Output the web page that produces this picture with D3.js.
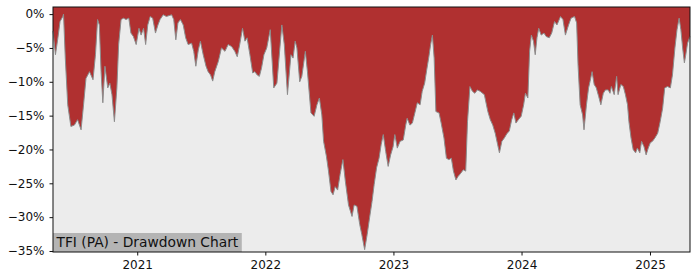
<!DOCTYPE html>
<html>
<head>
<meta charset="utf-8">
<script src="https://cdn.jsdelivr.net/npm/d3@7"></script>
<style>
  body { margin: 0; background: #fff; }
  svg { display: block; font-family: "DejaVu Sans", sans-serif; }
</style>
</head>
<body>
<svg width="700" height="280"></svg>
<script>
var chartLabel = "TFI (PA) - Drawdown Chart"

// drawdown (%), one point per visible turn of the curve
var dates = [
  "2020-05-06","2020-05-13","2020-05-20","2020-05-26","2020-06-03","2020-06-05","2020-06-10","2020-06-17",
  "2020-06-26","2020-07-06","2020-07-15","2020-07-25","2020-08-01","2020-08-08","2020-08-18","2020-08-28",
  "2020-09-04","2020-09-10","2020-09-15","2020-09-20","2020-09-25","2020-10-01","2020-10-09","2020-10-15",
  "2020-10-21","2020-10-28","2020-11-04","2020-11-09","2020-11-16","2020-11-23","2020-11-30","2020-12-08",
  "2020-12-14","2020-12-21","2020-12-29",
  "2021-01-06","2021-01-12","2021-01-19","2021-01-25","2021-01-31","2021-02-07","2021-02-14","2021-02-22",
  "2021-03-01","2021-03-07","2021-03-16","2021-03-25","2021-04-09","2021-04-15","2021-04-21","2021-04-27",
  "2021-05-04","2021-05-12","2021-05-19","2021-05-26","2021-06-05","2021-06-11","2021-06-17","2021-06-24",
  "2021-06-30","2021-07-08","2021-07-16","2021-07-22","2021-07-29","2021-08-04","2021-08-10","2021-08-20",
  "2021-08-29","2021-09-08","2021-09-17","2021-09-27","2021-10-06","2021-10-13","2021-10-20","2021-10-28",
  "2021-11-04","2021-11-10","2021-11-18","2021-11-26","2021-12-02","2021-12-09","2021-12-15","2021-12-21",
  "2021-12-28",
  "2022-01-05","2022-01-15","2022-01-25","2022-02-03","2022-02-17","2022-02-24","2022-03-05","2022-03-15",
  "2022-03-21","2022-03-27","2022-04-01","2022-04-09","2022-04-15","2022-04-25","2022-05-01","2022-05-11",
  "2022-05-20","2022-05-28","2022-06-04","2022-06-11","2022-06-16","2022-06-24","2022-06-30","2022-07-07",
  "2022-07-13","2022-07-19","2022-07-26","2022-08-02","2022-08-10","2022-08-17","2022-08-26","2022-09-05",
  "2022-09-11","2022-09-19","2022-09-27","2022-10-03","2022-10-11","2022-10-18","2022-10-25","2022-11-01",
  "2022-11-07","2022-11-14","2022-11-21","2022-11-27","2022-12-03","2022-12-10","2022-12-17","2022-12-24",
  "2022-12-31",
  "2023-01-05","2023-01-12","2023-01-20","2023-01-29","2023-02-05","2023-02-09","2023-02-17","2023-02-24",
  "2023-03-03","2023-03-10","2023-03-18","2023-03-24","2023-03-31","2023-04-06","2023-04-12","2023-04-17",
  "2023-04-22","2023-04-27","2023-05-02","2023-05-11","2023-05-17","2023-05-25","2023-06-01","2023-06-08",
  "2023-06-15","2023-06-21","2023-06-28","2023-07-04","2023-07-12","2023-07-19","2023-07-26","2023-07-31",
  "2023-08-07","2023-08-14","2023-08-21","2023-08-28","2023-09-05","2023-09-17","2023-09-27","2023-10-04",
  "2023-10-11","2023-10-18","2023-10-25","2023-10-30","2023-11-06","2023-11-13","2023-11-21","2023-11-27",
  "2023-12-04","2023-12-10","2023-12-16","2023-12-23","2023-12-31",
  "2024-01-07","2024-01-12","2024-01-19","2024-01-24","2024-01-29","2024-02-04","2024-02-09","2024-02-14",
  "2024-02-19","2024-02-26","2024-03-05","2024-03-11","2024-03-20","2024-03-27","2024-04-04","2024-04-11",
  "2024-04-21","2024-04-28","2024-05-05","2024-05-14","2024-05-21","2024-05-31","2024-06-06","2024-06-10",
  "2024-06-16","2024-06-23","2024-06-27","2024-07-04","2024-07-10","2024-07-14","2024-07-20","2024-07-26",
  "2024-08-01","2024-08-08","2024-08-14","2024-08-21","2024-08-27","2024-09-04","2024-09-09","2024-09-13",
  "2024-09-21","2024-09-28","2024-10-02","2024-10-10","2024-10-17","2024-10-23","2024-10-29","2024-11-02",
  "2024-11-08","2024-11-14","2024-11-21","2024-11-26","2024-12-03","2024-12-08","2024-12-15","2024-12-21",
  "2024-12-27",
  "2025-01-02","2025-01-08","2025-01-15","2025-01-23","2025-01-30","2025-02-06","2025-02-12","2025-02-20",
  "2025-02-28","2025-03-06","2025-03-13","2025-03-19","2025-03-25","2025-03-30","2025-04-04","2025-04-09",
  "2025-04-13","2025-04-18","2025-04-25"
]

var drawdown = [
  -2.5,-6.0,-3.5,-1.1,-0.35,0,-6.5,-13.4,
  -16.6,-16.4,-15.6,-17.1,-13.4,-9.5,-8.5,-9.7,
  -6.0,-0.8,-1.6,-8.5,-13.1,-7.7,-10.9,-10.2,
  -11.9,-15.9,-10.9,-4.5,-0.8,-0.6,-0.8,-0.6,
  -2.8,-3.3,-4.5,
  -2.1,-3.1,-2.1,-4.5,-1.6,-0.35,-0.6,-2.8,
  -1.6,-0.8,-0.1,-0.35,-0.1,-0.8,-3.8,-1.3,
  -0.8,-1.6,-3.5,-4.5,-4.3,-5.5,-7.7,-5.3,
  -4.0,-6.0,-7.7,-8.5,-9.0,-9.9,-8.5,-7.0,
  -5.0,-5.5,-4.5,-4.8,-5.5,-6.3,-4.5,-2.1,
  -4.0,-3.5,-6.0,-8.7,-8.5,-9.0,-9.2,-8.0,
  -6.0,
  -5.0,-2.3,-10.9,-10.2,-1.6,-4.5,-11.9,-6.0,
  -6.5,-4.0,-5.0,-10.0,-9.2,-5.5,-8.5,-14.6,
  -15.1,-13.4,-12.4,-14.9,-18.8,-21.0,-23.2,-26.2,
  -26.7,-25.5,-26.0,-23.7,-21.5,-24.7,-28.2,-29.9,
  -28.2,-28.4,-31.1,-32.6,-34.8,-32.6,-30.1,-27.7,
  -25.2,-22.7,-21.3,-19.3,-17.8,-20.3,-22.5,-20.8,
  -19.6,
  -17.8,-19.8,-18.8,-18.6,-16.4,-15.4,-16.4,-16.1,
  -14.6,-13.1,-13.4,-11.4,-10.2,-8.2,-6.3,-4.5,
  -3.1,-6.5,-14.4,-14.6,-16.1,-18.3,-21.3,-21.5,
  -21.3,-23.2,-24.5,-24.0,-23.5,-23.0,-23.2,-15.9,
  -10.7,-11.4,-11.7,-11.2,-11.4,-11.9,-14.4,-15.6,
  -16.4,-17.6,-19.3,-20.5,-18.8,-18.3,-17.6,-17.3,
  -15.6,-14.6,-16.1,-15.6,-15.1,
  -13.4,-11.7,-12.4,-5.5,-3.1,-4.0,-6.0,-3.5,
  -2.1,-3.1,-2.8,-3.3,-3.5,-2.8,-1.1,-1.6,
  -0.35,-0.8,-3.1,-1.6,-0.6,-0.35,-1.3,-7.5,
  -13.4,-14.9,-17.1,-13.4,-10.9,-10.0,-8.5,-10.4,
  -10.9,-12.2,-13.4,-11.7,-11.2,-11.2,-11.7,-10.7,
  -11.9,-9.2,-11.9,-10.4,-10.7,-11.9,-13.4,-15.9,
  -18.3,-20.0,-20.5,-19.8,-20.5,-18.8,-19.6,-20.8,
  -19.8,
  -19.0,-18.8,-18.3,-17.6,-15.9,-13.9,-10.9,-10.7,
  -10.9,-9.0,-5.0,-2.3,-0.6,-2.3,-5.0,-7.2,
  -6.0,-4.3,-3.3
]

var yTicks = [0, -5, -10, -15, -20, -25, -30, -35]
var xTicks = ["2021-01-01", "2022-01-01", "2023-01-01", "2024-01-01", "2025-01-01"]

var parse = d3.timeParse("%Y-%m-%d")
var data = dates.map(function(d, i) { return {date: parse(d), v: drawdown[i]} })

var svg = d3.select("svg")
var margin = ({top: 7, right: 10, bottom: 28, left: 53})
var width = 700 - margin.left - margin.right
var height = 280 - margin.top - margin.bottom

var g = svg.append("g").attr("transform", "translate(" + margin.left + "," + margin.top + ")")

var x = d3.scaleTime()
          .domain(d3.extent(data, function(d) { return d.date }))
          .range([0, width])

var y = d3.scaleLinear()
          .domain([-35.15, 1.05])
          .range([height, 0])

g.append("rect")
 .attr("width", width)
 .attr("height", height)
 .attr("fill", "#ececec")

// red area hangs from the top of the plot down to the drawdown curve
var area = d3.area()
             .x(function(d) { return x(d.date) })
             .y0(0)
             .y1(function(d) { return y(d.v) })

g.append("path")
 .datum(data)
 .attr("fill", "#b03030")
 .attr("d", area)

g.append("path")
 .datum(data)
 .attr("fill", "none")
 .attr("stroke", "#8c8c8c")
 .attr("stroke-width", 1)
 .attr("d", d3.line().x(function(d) { return x(d.date) }).y(function(d) { return y(d.v) }))

// label box in the lower left corner
var label = g.append("g")
var labelText = label.append("text")
                     .attr("x", 3.5)
                     .attr("y", height - 5)
                     .attr("font-size", 13.8)
                     .attr("fill", "#111")
                     .text(chartLabel)
var tw = labelText.node().getComputedTextLength()
label.insert("rect", "text")
     .attr("x", 0)
     .attr("y", height - 19)
     .attr("width", tw + 7)
     .attr("height", 19)
     .attr("fill", "#b4b4b4")

var yAxis = g.append("g")
             .call(d3.axisLeft(y)
                     .tickValues(yTicks)
                     .tickSize(3.5)
                     .tickPadding(5)
                     .tickFormat(function(d) { return (d < 0 ? "\u2212" : "") + Math.abs(d) + "%" }))
yAxis.select(".domain").remove()

var xAxis = g.append("g")
             .attr("transform", "translate(0," + height + ")")
             .call(d3.axisBottom(x)
                     .tickValues(xTicks.map(parse))
                     .tickSize(3.5)
                     .tickPadding(5)
                     .tickFormat(d3.timeFormat("%Y")))
xAxis.select(".domain").remove()

svg.selectAll(".tick text")
   .attr("font-family", "DejaVu Sans, sans-serif")
   .attr("font-size", 12)
   .attr("fill", "#111")
svg.selectAll(".tick line").attr("stroke", "#111")

// frame
g.append("rect")
 .attr("width", width)
 .attr("height", height)
 .attr("fill", "none")
 .attr("stroke", "#111")
 .attr("stroke-width", 1)
</script>
</body>
</html>
